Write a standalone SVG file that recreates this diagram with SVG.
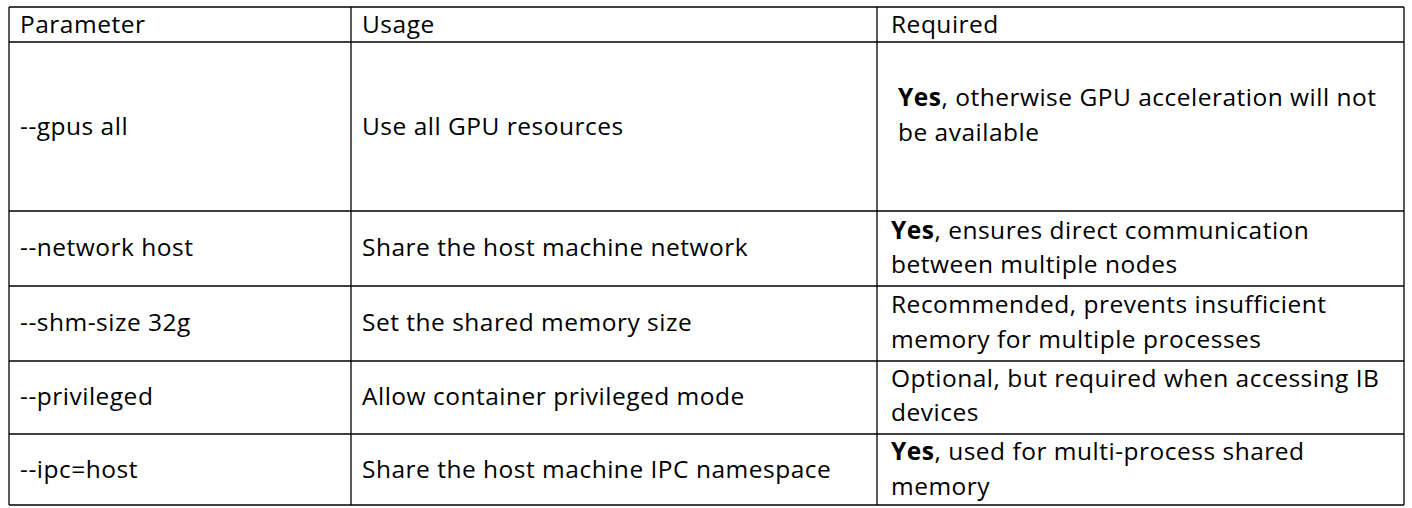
<svg xmlns="http://www.w3.org/2000/svg" width="1412" height="508" viewBox="0 0 1412 508">
<style>
text{font-family:"Open Sans","Liberation Sans",sans-serif;font-size:24.5px;letter-spacing:0.5px;fill:#000}
line{stroke:#000;stroke-width:1.3}
</style>
<rect width="1412" height="508" fill="#fff"/>
<g id="grid">
<line x1="9" y1="7" x2="1404" y2="7"/>
<line x1="9" y1="42" x2="1404" y2="42"/>
<line x1="9" y1="211" x2="1404" y2="211"/>
<line x1="9" y1="286" x2="1404" y2="286"/>
<line x1="9" y1="361" x2="1404" y2="361"/>
<line x1="9" y1="434" x2="1404" y2="434"/>
<line x1="9" y1="505" x2="1404" y2="505"/>
<line x1="9" y1="7" x2="9" y2="505"/>
<line x1="351" y1="7" x2="351" y2="505"/>
<line x1="877" y1="7" x2="877" y2="505"/>
<line x1="1404" y1="7" x2="1404" y2="505"/>
</g>
<g id="header">
<text x="20" y="33">Parameter</text>
<text x="362" y="33">Usage</text>
<text x="891" y="33">Required</text>
</g>
<g id="row1">
<text x="20" y="135">--gpus all</text>
<text x="362" y="135">Use all GPU resources</text>
<text x="898" y="106"><tspan font-weight="bold">Yes</tspan>, otherwise GPU acceleration will not</text>
<text x="898" y="141">be available</text>
</g>
<g id="row2">
<text x="20" y="256">--network host</text>
<text x="362" y="256">Share the host machine network</text>
<text x="891" y="239"><tspan font-weight="bold">Yes</tspan>, ensures direct communication</text>
<text x="891" y="273">between multiple nodes</text>
</g>
<g id="row3">
<text x="20" y="331">--shm-size 32g</text>
<text x="362" y="331">Set the shared memory size</text>
<text x="891" y="313">Recommended, prevents insufficient</text>
<text x="891" y="348">memory for multiple processes</text>
</g>
<g id="row4">
<text x="20" y="405">--privileged</text>
<text x="362" y="405">Allow container privileged mode</text>
<text x="891" y="387">Optional, but required when accessing IB</text>
<text x="891" y="421">devices</text>
</g>
<g id="row5">
<text x="20" y="478">--ipc=host</text>
<text x="362" y="478">Share the host machine IPC namespace</text>
<text x="891" y="460"><tspan font-weight="bold">Yes</tspan>, used for multi-process shared</text>
<text x="891" y="495">memory</text>
</g>
</svg>
